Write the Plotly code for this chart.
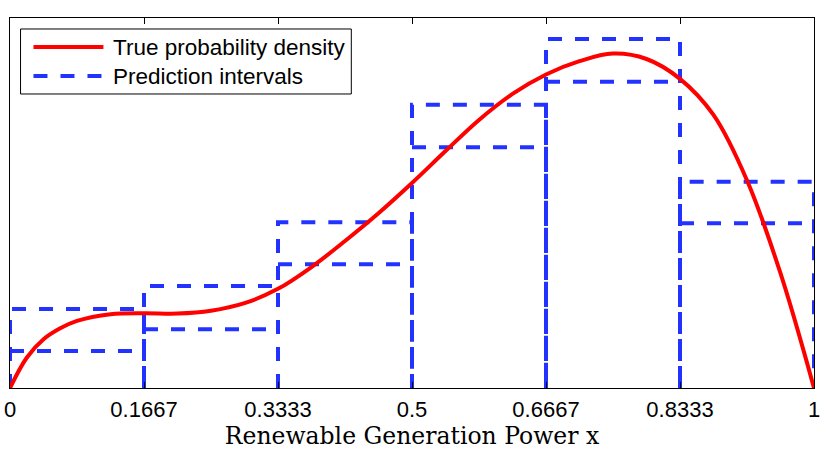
import plotly.graph_objects as go

# curva de densidade
x_dens = [0, 0.0208, 0.0417, 0.0625, 0.0833, 0.125, 0.1667, 0.2083, 0.25, 0.2917,
          0.3333, 0.375, 0.4167, 0.4583, 0.5, 0.5417, 0.5833, 0.625, 0.6667,
          0.7083, 0.75, 0.7917, 0.8333, 0.875, 0.9167, 0.9583, 1.0]
y_dens = [0, 0.180, 0.290, 0.355, 0.399, 0.439, 0.445, 0.443, 0.460, 0.505,
          0.590, 0.720, 0.875, 1.040, 1.220, 1.410, 1.595, 1.750, 1.866,
          1.945, 1.990, 1.958, 1.840, 1.625, 1.235, 0.683, 0]

# intervalos de predição por faixa
bin_edges = [0, 1/6, 2/6, 3/6, 4/6, 5/6, 1]
upper = [0.470, 0.607, 0.986, 1.685, 2.077, 1.228]
lower = [0.220, 0.349, 0.736, 1.433, 1.823, 0.980]

tick_vals = [0, 1/6, 2/6, 3/6, 4/6, 5/6, 1]
tick_text = ['0', '0.1667', '0.3333', '0.5', '0.6667', '0.8333', '1']

legend_names = ['True probability density', 'Prediction intervals']

red = '#ff0000'
blue = '#2233ff'
dash = '14px,13px'

fig = go.Figure()

for i in range(len(upper)):
    a, b = bin_edges[i], bin_edges[i + 1]
    fig.add_trace(go.Scatter(
        x=[a, a, b, b], y=[0, upper[i], upper[i], 0], mode='lines',
        line=dict(color=blue, width=4, dash=dash), hoverinfo='skip'))
    fig.add_trace(go.Scatter(
        x=[a, b], y=[lower[i], lower[i]], mode='lines',
        line=dict(color=blue, width=4, dash=dash), hoverinfo='skip'))

fig.add_trace(go.Scatter(
    x=x_dens, y=y_dens, mode='lines', line_shape='spline',
    line=dict(color=red, width=4), name=legend_names[0]))

# legenda desenhada à mão (estilo MATLAB)
fig.add_shape(type='rect', xref='paper', yref='paper', x0=0.0131, x1=0.4245, y0=0.7946, y1=0.9703,
              line=dict(color='black', width=1), fillcolor='white', layer='above')
fig.add_shape(type='line', xref='paper', yref='paper', x0=0.0292, x1=0.1162, y0=0.9216, y1=0.9216,
              line=dict(color=red, width=4), layer='above')
fig.add_shape(type='line', xref='paper', yref='paper', x0=0.0292, x1=0.1162, y0=0.8432, y1=0.8432,
              line=dict(color=blue, width=4, dash=dash), layer='above')
for nome, yy in zip(legend_names, [0.9216, 0.8432]):
    fig.add_annotation(text=nome, xref='paper', yref='paper', x=0.1262, y=yy,
                       xanchor='left', yanchor='middle', showarrow=False,
                       font=dict(size=22.5, color='black'))

fig.update_xaxes(
    range=[0, 1], tickvals=tick_vals, ticktext=tick_text, automargin=False,
    ticks='inside', ticklen=6, tickcolor='black', mirror='ticks', ticklabelstandoff=2,
    showline=True, linecolor='black', linewidth=1, showgrid=False, zeroline=False,
    tickfont=dict(family='Liberation Sans, Arial, sans-serif', size=22, color='black'),
    title=dict(text='Renewable Generation Power x', standoff=2,
               font=dict(family='DejaVu Serif, serif', size=23.5, color='black')))
fig.update_yaxes(
    range=[0, 2.202], showticklabels=False, ticks='', mirror=True, automargin=False,
    showline=True, linecolor='black', linewidth=1, showgrid=False, zeroline=False)

fig.update_layout(
    width=830, height=455, showlegend=False,
    margin=dict(l=10, r=16, t=18, b=67),
    paper_bgcolor='white', plot_bgcolor='white',
    font=dict(family='Liberation Sans, Arial, sans-serif', color='black'),
)

# sem a margem padrão do <body> e sem a barra de ferramentas
fig.write_html('out.html', config={'displayModeBar': False},
               post_script="document.body.style.margin='0';")
